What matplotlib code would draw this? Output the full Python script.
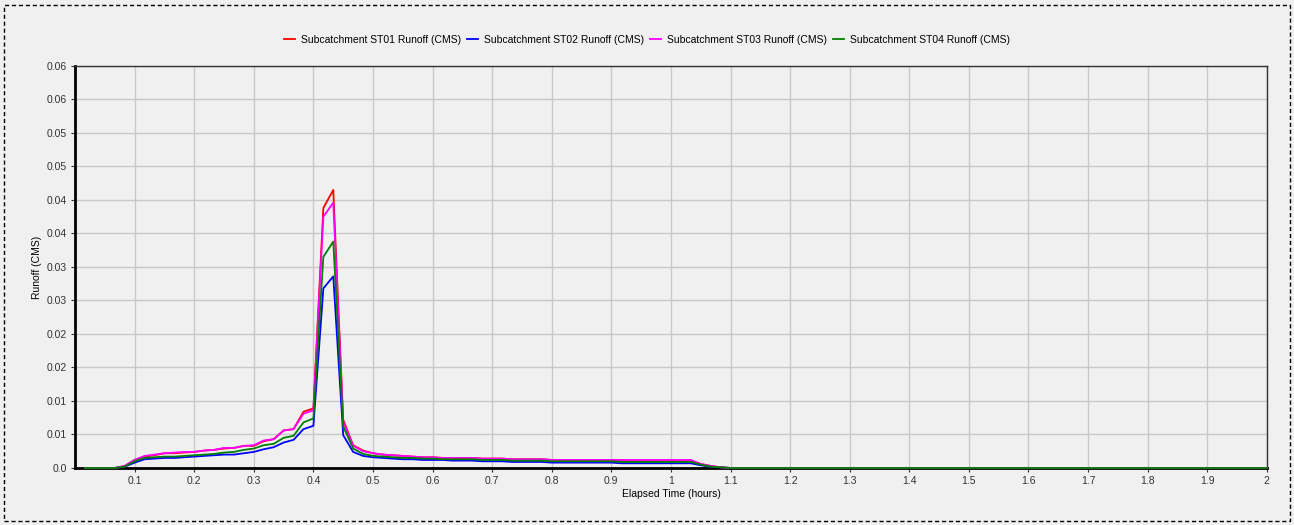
import matplotlib.pyplot as plt
from matplotlib.patches import Rectangle

plt.rcParams['font.family'] = ['Liberation Sans', 'DejaVu Sans']

# elapsed time in minutes (report step 1 min), last point at 2 h
minutes = list(range(1, 67)) + [120]

st01 = [0.0, 0.0, 0.0, 0.0, 0.0003, 0.0012, 0.0017, 0.0019, 0.0022, 0.0022,
        0.0023, 0.0024, 0.0026, 0.0027, 0.0029, 0.0030, 0.0033, 0.0033, 0.0040, 0.0043,
        0.0056, 0.0058, 0.0084, 0.0089, 0.0388, 0.0415, 0.0072, 0.0034, 0.0026, 0.0022,
        0.0020, 0.0019, 0.0018, 0.0017, 0.0016, 0.0016, 0.0015, 0.0015, 0.0015, 0.0015,
        0.0014, 0.0014, 0.0014, 0.0013, 0.0013, 0.0013, 0.0013, 0.0012, 0.0012, 0.0012,
        0.0012, 0.0012, 0.0012, 0.0012, 0.0011, 0.0011, 0.0011, 0.0011, 0.0011, 0.0011,
        0.0011, 0.0011, 0.0006, 0.0003, 0.0001, 0.0, 0.0]
st02 = [0.0, 0.0, 0.0, 0.0, 0.0002, 0.0008, 0.0013, 0.0014, 0.0015, 0.0015,
        0.0016, 0.0017, 0.0018, 0.0019, 0.0020, 0.0020, 0.0022, 0.0024, 0.0028, 0.0031,
        0.0038, 0.0042, 0.0058, 0.0063, 0.0268, 0.0286, 0.0049, 0.0024, 0.0018, 0.0016,
        0.0015, 0.0014, 0.0013, 0.0013, 0.0012, 0.0012, 0.0012, 0.0011, 0.0011, 0.0011,
        0.0010, 0.0010, 0.0010, 0.0009, 0.0009, 0.0009, 0.0009, 0.0008, 0.0008, 0.0008,
        0.0008, 0.0008, 0.0008, 0.0008, 0.0007, 0.0007, 0.0007, 0.0007, 0.0007, 0.0007,
        0.0007, 0.0007, 0.0004, 0.0002, 0.0001, 0.0, 0.0]
st03 = [0.0, 0.0, 0.0, 0.0, 0.0003, 0.0012, 0.0018, 0.0020, 0.0022, 0.0023,
        0.0024, 0.0024, 0.0026, 0.0027, 0.0030, 0.0030, 0.0033, 0.0034, 0.0041, 0.0043,
        0.0056, 0.0058, 0.0081, 0.0086, 0.0375, 0.0396, 0.0069, 0.0033, 0.0025, 0.0022,
        0.0020, 0.0019, 0.0018, 0.0017, 0.0016, 0.0016, 0.0015, 0.0015, 0.0015, 0.0015,
        0.0014, 0.0014, 0.0014, 0.0013, 0.0013, 0.0013, 0.0013, 0.0012, 0.0012, 0.0012,
        0.0012, 0.0012, 0.0012, 0.0012, 0.0012, 0.0012, 0.0012, 0.0012, 0.0012, 0.0012,
        0.0012, 0.0012, 0.0006, 0.0003, 0.0001, 0.0, 0.0]
st04 = [0.0, 0.0, 0.0, 0.0, 0.0002, 0.0010, 0.0015, 0.0016, 0.0017, 0.0017,
        0.0018, 0.0019, 0.0020, 0.0021, 0.0023, 0.0024, 0.0027, 0.0029, 0.0034, 0.0036,
        0.0045, 0.0048, 0.0068, 0.0074, 0.0315, 0.0338, 0.0062, 0.0029, 0.0021, 0.0018,
        0.0017, 0.0016, 0.0015, 0.0015, 0.0014, 0.0014, 0.0013, 0.0013, 0.0013, 0.0013,
        0.0012, 0.0012, 0.0012, 0.0011, 0.0011, 0.0011, 0.0011, 0.0010, 0.0010, 0.0010,
        0.0010, 0.0010, 0.0010, 0.0010, 0.0009, 0.0009, 0.0009, 0.0009, 0.0009, 0.0009,
        0.0009, 0.0009, 0.0005, 0.0002, 0.0001, 0.0, 0.0]

names = ['Subcatchment ST01 Runoff (CMS)', 'Subcatchment ST02 Runoff (CMS)',
         'Subcatchment ST03 Runoff (CMS)', 'Subcatchment ST04 Runoff (CMS)']
colors = ['#ff0000', '#0000ff', '#ff00ff', '#008000']

xticks = [0.1, 0.2, 0.3, 0.4, 0.5, 0.6, 0.7, 0.8, 0.9, 1.0,
          1.1, 1.2, 1.3, 1.4, 1.5, 1.6, 1.7, 1.8, 1.9, 2.0]
xtick_labels = ['0.1', '0.2', '0.3', '0.4', '0.5', '0.6', '0.7', '0.8', '0.9', '1',
                '1.1', '1.2', '1.3', '1.4', '1.5', '1.6', '1.7', '1.8', '1.9', '2']
yticks = [0.0, 0.005, 0.01, 0.015, 0.02, 0.025, 0.03, 0.035, 0.04, 0.045, 0.05, 0.055, 0.06]
ytick_labels = ['0.0', '0.01', '0.01', '0.02', '0.02', '0.03', '0.03',
                '0.04', '0.04', '0.05', '0.05', '0.06', '0.06']

bg = '#f0f0f0'
fig = plt.figure(figsize=(12.94, 5.25), dpi=100, facecolor=bg)
ax = fig.add_axes([0.058, 0.1086, 0.921, 0.7657], facecolor=bg)

hours = [m / 60 for m in minutes]
for vals, name, col in zip([st01, st02, st03, st04], names, colors):
    ax.plot(hours, vals, color=col, lw=1.3, label=name, zorder=3, clip_on=False)

ax.set_xlim(0, 2)
ax.set_ylim(0, 0.06)
ax.set_xticks(xticks)
ax.set_xticklabels(xtick_labels)
ax.set_yticks(yticks)
ax.set_yticklabels(ytick_labels)
ax.tick_params(labelsize=7.5, length=3, width=0.8, colors='#333333', pad=3)
ax.grid(True, color='#c8c8c8', lw=1)
ax.set_axisbelow(True)

for side in ['left', 'bottom']:
    ax.spines[side].set_linewidth(2)
    ax.spines[side].set_color('black')
for side in ['top', 'right']:
    ax.spines[side].set_linewidth(1)
    ax.spines[side].set_color('#333333')

ax.set_xlabel('Elapsed Time (hours)', fontsize=7.5, labelpad=2)
ax.set_ylabel('Runoff (CMS)', fontsize=7.5, labelpad=3)

ax.legend(loc='center', bbox_to_anchor=(0.5, 0.924), bbox_transform=fig.transFigure,
          ncol=4, frameon=False, fontsize=7.5, handlelength=1.0, handletextpad=0.6,
          columnspacing=0.6)

# dashed outer frame
fig.patches.append(Rectangle((0.003, 0.008), 0.994, 0.982, transform=fig.transFigure,
                             fill=False, ls=(0, (3, 2)), lw=1, ec='black'))

fig.savefig('out.png', dpi=100, facecolor=bg)
